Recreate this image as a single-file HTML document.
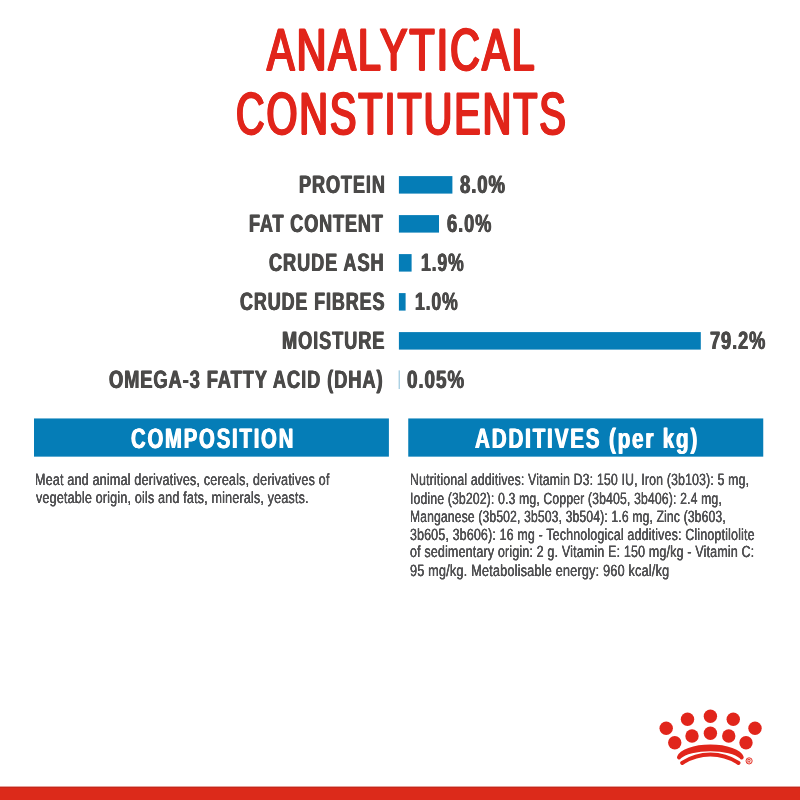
<!DOCTYPE html>
<html lang="en"><head><meta charset="utf-8"><title>Analytical Constituents</title>
<style>
html,body{margin:0;padding:0;}
body{width:800px;height:800px;position:relative;overflow:hidden;background:#fff;font-family:"Liberation Sans",sans-serif;}
.t{position:absolute;white-space:nowrap;line-height:1;text-rendering:geometricPrecision;transform-origin:0 0;display:block;margin:0;}
.g0{font-size:59.09px;font-weight:400;color:#e1251b;letter-spacing:0.05em;-webkit-text-stroke:1.8px #e1251b;text-shadow:1.6px 0px 0 #e1251b,-1.6px 0px 0 #e1251b;}
.g1{font-size:25.15px;font-weight:700;color:#4b4a49;letter-spacing:0.05em;text-shadow:0.6px 0px 0 #4b4a49,-0.6px 0px 0 #4b4a49;}
.g2{font-size:28.05px;font-weight:700;color:#ffffff;letter-spacing:0.09em;text-shadow:0.7px 0px 0 #ffffff,-0.7px 0px 0 #ffffff;}
.g3{font-size:16.21px;font-weight:400;color:#515153;letter-spacing:0.015em;text-shadow:0.15px 0px 0 #515153,-0.15px 0px 0 #515153;}
</style></head><body>
<svg style="position:absolute;left:0;top:0" width="800" height="800" viewBox="0 0 800 800">
<rect x="398.9" y="176.1" width="53.5" height="17.5" fill="#057db7"/>
<rect x="398.9" y="215.1" width="40.1" height="17.5" fill="#057db7"/>
<rect x="398.9" y="254.1" width="12.7" height="17.5" fill="#057db7"/>
<rect x="398.9" y="293.1" width="6.7" height="17.5" fill="#057db7"/>
<rect x="398.9" y="332.1" width="301.9" height="17.5" fill="#057db7"/>
<rect x="398.6" y="370.4" width="1.3" height="18.6" fill="#a3cce0"/>
<rect x="34" y="418.45" width="354.9" height="38.2" fill="#057db7"/>
<rect x="408.25" y="418.45" width="355.0" height="38.2" fill="#057db7"/>
<rect x="0" y="786.75" width="800" height="14" fill="#dc2a1a"/>
<rect x="0" y="786.75" width="800" height="1" fill="#bd271b"/>
<circle cx="666.2" cy="728.2" r="6.7" fill="#e1251b"/>
<circle cx="687.5" cy="719.2" r="6.7" fill="#e1251b"/>
<circle cx="710.4" cy="716.2" r="6.7" fill="#e1251b"/>
<circle cx="733.25" cy="719.2" r="6.7" fill="#e1251b"/>
<circle cx="755" cy="728.2" r="6.7" fill="#e1251b"/>
<circle cx="674.75" cy="742.75" r="6.7" fill="#e1251b"/>
<circle cx="692" cy="736" r="6.7" fill="#e1251b"/>
<circle cx="710.4" cy="733.3" r="6.7" fill="#e1251b"/>
<circle cx="728.75" cy="736" r="6.7" fill="#e1251b"/>
<circle cx="746" cy="742.75" r="6.7" fill="#e1251b"/>
<path d="M677.25 756.3 A33.4 13.5 0 0 1 743.45 756.3 A2.1 2.1 0 0 1 739.75 758.3 A31 10.4 0 0 0 680.95 758.3 A2.1 2.1 0 0 1 677.25 756.3 Z" fill="#e1251b"/>
<path d="M682.15 763 A51.3 51.3 0 0 1 738.55 763" fill="none" stroke="#e1251b" stroke-width="3.9" stroke-linecap="round"/>
<circle cx="749.1" cy="760.9" r="3.1" fill="#fdeeea" stroke="#e1251b" stroke-width="0.9"/>
<text x="749.1" y="762.7" font-size="4.8" font-weight="700" text-anchor="middle" fill="#e1251b" font-family="Liberation Sans, sans-serif">R</text>
</svg>
<div class="t g0" style="left:266.74px;top:21px;transform:scaleX(0.6978)">ANALYTICAL</div>
<div class="t g0" style="left:235.66px;top:85px;transform:scaleX(0.6703)">CONSTITUENTS</div>
<div class="t g1" style="left:298.51px;top:173px;transform:scaleX(0.72)">PROTEIN</div>
<div class="t g1" style="left:460.44px;top:173px;transform:scaleX(0.7364)">8.0%</div>
<div class="t g1" style="left:249.31px;top:212px;transform:scaleX(0.7167)">FAT CONTENT</div>
<div class="t g1" style="left:447.44px;top:212px;transform:scaleX(0.7267)">6.0%</div>
<div class="t g1" style="left:269.11px;top:251px;transform:scaleX(0.7228)">CRUDE ASH</div>
<div class="t g1" style="left:420.72px;top:251px;transform:scaleX(0.6993)">1.9%</div>
<div class="t g1" style="left:239.71px;top:290px;transform:scaleX(0.7135)">CRUDE FIBRES</div>
<div class="t g1" style="left:414.72px;top:290px;transform:scaleX(0.6993)">1.0%</div>
<div class="t g1" style="left:281.71px;top:329px;transform:scaleX(0.7238)">MOISTURE</div>
<div class="t g1" style="left:709.91px;top:329px;transform:scaleX(0.7248)">79.2%</div>
<div class="t g1" style="left:109.21px;top:368px;transform:scaleX(0.7273)">OMEGA-3 FATTY ACID (DHA)</div>
<div class="t g1" style="left:406.7px;top:368px;transform:scaleX(0.7484)">0.05%</div>
<div class="t g2" style="left:130.58px;top:425px;transform:scaleX(0.7224)">COMPOSITION</div>
<div class="t g2" style="left:475.31px;top:425px;transform:scaleX(0.7335)">ADDITIVES (per kg)</div>
<div class="t g3" style="left:34.74px;top:472px;transform:scaleX(0.7757)">Meat and animal derivatives, cereals, derivatives of</div>
<div class="t g3" style="left:35.72px;top:490px;transform:scaleX(0.7742)">vegetable origin, oils and fats, minerals, yeasts.</div>
<div class="t g3" style="left:409.56px;top:472px;transform:scaleX(0.7578)">Nutritional additives: Vitamin D3: 150 IU, Iron (3b103): 5 mg,</div>
<div class="t g3" style="left:409.76px;top:491px;transform:scaleX(0.751)">Iodine (3b202): 0.3 mg, Copper (3b405, 3b406): 2.4 mg,</div>
<div class="t g3" style="left:409.57px;top:509px;transform:scaleX(0.7463)">Manganese (3b502, 3b503, 3b504): 1.6 mg, Zinc (3b603,</div>
<div class="t g3" style="left:410.11px;top:527px;transform:scaleX(0.7655)">3b605, 3b606): 16 mg - Technological additives: Clinoptilolite</div>
<div class="t g3" style="left:410.12px;top:544px;transform:scaleX(0.7688)">of sedimentary origin: 2 g. Vitamin E: 150 mg/kg - Vitamin C:</div>
<div class="t g3" style="left:410.12px;top:563px;transform:scaleX(0.784)">95 mg/kg. Metabolisable energy: 960 kcal/kg</div>
</body></html>
